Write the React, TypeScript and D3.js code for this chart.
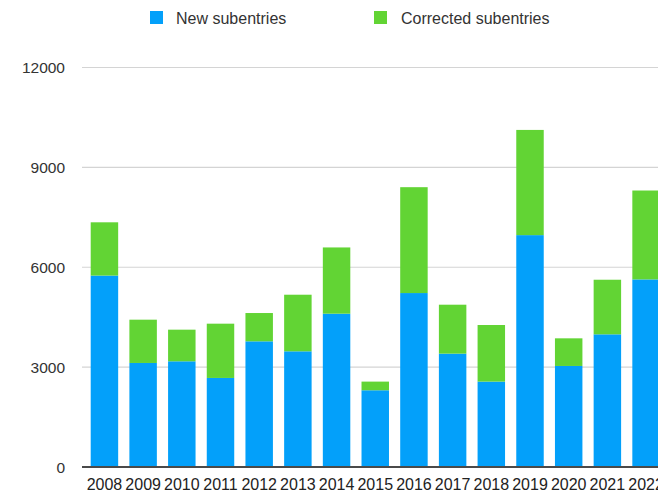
import React from "react";
import * as d3 from "d3";

const years = ["2008","2009","2010","2011","2012","2013","2014","2015","2016","2017","2018","2019","2020","2021","2022"];
const newSubentries = [5750, 3125, 3175, 2675, 3775, 3475, 4605, 2305, 5225, 3405, 2565, 6965, 3035, 3985, 5635];
const correctedSubentries = [1600, 1300, 950, 1630, 850, 1700, 1990, 260, 3180, 1470, 1700, 3160, 830, 1640, 2670];
const yTicks = [0, 3000, 6000, 9000, 12000];
const seriesNames = ["New subentries", "Corrected subentries"];
const colors = ["#03a0fa", "#62d434"];

export default function App() {
  const W = 658, H = 492;
  const x = d3.scaleBand<string>().domain(years).range([82, 668.5]).paddingInner(0.29).paddingOuter(0.225);
  const y = d3.scaleLinear().domain([0, 12000]).range([467, 67.5]);
  const font = "'Liberation Sans', Arial, Helvetica, sans-serif";
  const stacked = d3.stack<any>().keys(["a", "b"])(years.map((yr, i) => ({ yr, a: newSubentries[i], b: correctedSubentries[i] })));

  return (
    <svg width={W} height={H} style={{ position: "absolute", left: 0, top: 0, background: "#fff" }} fontFamily={font}>
      {/* legend */}
      <rect x={150} y={11} width={13} height={13} fill={colors[0]} />
      <text x={176} y={23.5} fontSize={16} fill="#333">{seriesNames[0]}</text>
      <rect x={374} y={11} width={13} height={13} fill={colors[1]} />
      <text x={401} y={23.5} fontSize={16} fill="#333">{seriesNames[1]}</text>

      {/* gridlines & y labels */}
      {yTicks.map((t) => (
        <g key={t}>
          {t !== 0 && <line x1={82} x2={W} y1={y(t)} y2={y(t)} stroke="#d4d4d4" strokeWidth={1.2} />}
          <text x={65} y={y(t)} dy="0.36em" textAnchor="end" fontSize={15.5} fill="#333">{t}</text>
        </g>
      ))}

      {/* bars */}
      {stacked.map((s, si) => (
        <g key={si} fill={colors[si]}>
          {s.map((d, i) => (
            <rect key={i} x={x(years[i])} y={y(d[1])} width={x.bandwidth()} height={y(d[0]) - y(d[1])} />
          ))}
        </g>
      ))}

      {/* baseline */}
      <line x1={82} x2={W} y1={y(0)} y2={y(0)} stroke="#4a4a4a" strokeWidth={2} />

      {/* x labels */}
      {years.map((yr) => (
        <text key={yr} x={(x(yr) as number) + x.bandwidth() / 2} y={490} textAnchor="middle" fontSize={16} fill="#222">{yr}</text>
      ))}
    </svg>
  );
}
